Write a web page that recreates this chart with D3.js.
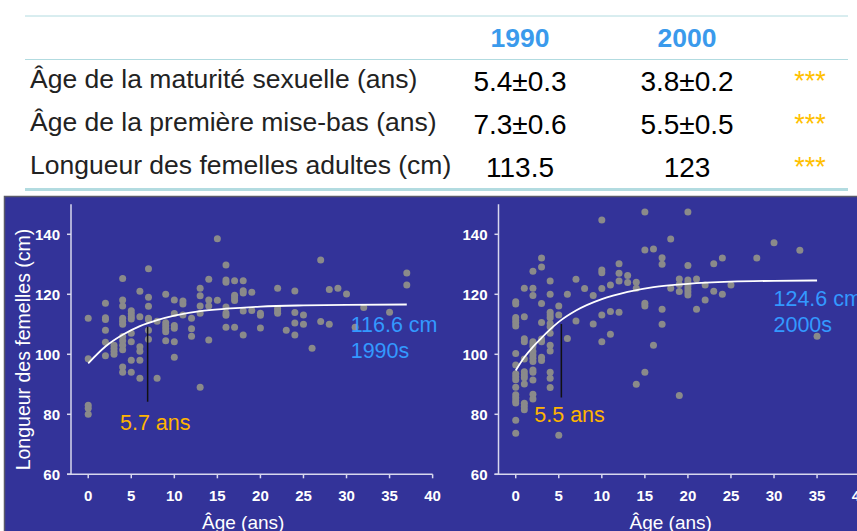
<!DOCTYPE html>
<html>
<head>
<meta charset="utf-8">
<script src="https://cdn.jsdelivr.net/npm/d3@7"></script>
<style>
  body { margin: 0; background: #fff; }
  svg { display: block; font-family: "Liberation Sans", Arial, sans-serif; }
</style>
</head>
<body>
<div id="chart"></div>
<script>
// table
const years = ['1990', '2000'];
const rowLabels = [
  'Âge de la maturité sexuelle (ans)',
  'Âge de la première mise-bas (ans)',
  'Longueur des femelles adultes (cm)'
];
const values1990 = ['5.4±0.3', '7.3±0.6', '113.5'];
const values2000 = ['3.8±0.2', '5.5±0.5', '123'];
const signif = ['***', '***', '***'];

// scatter: [age, length]
const points1990 = [
  [0, 112], [0, 98.5], [0, 83], [0, 82], [0, 80],
  [2, 117], [2, 112.2], [2, 111.6], [2, 108], [2, 104], [2, 99.5],
  [3, 103], [3, 102], [3, 101], [3, 100],
  [4, 125.3], [4, 118.1], [4, 116.1], [4, 112], [4, 111], [4, 110], [4, 105.9], [4, 104.5], [4, 103], [4, 101.5], [4, 95.8], [4, 94],
  [5, 114.5], [5, 113.5], [5, 112.5], [5, 111.8], [5, 107], [5, 104.2], [5, 98], [5, 94],
  [6, 121], [6, 112.5], [6, 102.5], [6, 101], [6, 98], [6, 92],
  [7, 128.5], [7, 119], [7, 116], [7, 112], [7, 111.5], [7, 108], [7, 105],
  [8, 111], [8, 92],
  [9, 120], [9, 110.5], [9, 109.5], [9, 108.5], [9, 107.5], [9, 104.5],
  [10, 118.1], [10, 113.6], [10, 109.6], [10, 108.7], [10, 104.2], [10, 99],
  [11, 117.8], [11, 116.8], [11, 113.1],
  [12, 112], [12, 108.5], [12, 106],
  [13, 122], [13, 119.5], [13, 116.1], [13, 113.7], [13, 89],
  [14, 125], [14, 118.1], [14, 116.1], [14, 104.8],
  [15, 138.5], [15, 118],
  [16, 129.8], [16, 124.8], [16, 124], [16, 115.8], [16, 113.8], [16, 113], [16, 109],
  [17, 124.5], [17, 119.7], [17, 118.8], [17, 117.9], [17, 109],
  [18, 124.5], [18, 121.2], [18, 120.4], [18, 114.4], [18, 106.4],
  [19, 120.7], [19, 114.6],
  [20, 113.7], [20, 113], [20, 108.8],
  [22, 122], [22, 115.3], [22, 114.4], [22, 113.7],
  [23, 108],
  [24, 121.1], [24, 113.9], [24, 110.4], [24, 106.4],
  [25, 113.1], [25, 110],
  [26, 102],
  [27, 131.4], [27, 110.9],
  [28, 121.6], [28, 110],
  [29, 122], [30, 120.1], [31, 109], [32, 115.6], [35, 114],
  [37, 127.1], [37, 123.1]
];
const points2000 = [
  [0, 117.5], [0, 116.8], [0, 112.3], [0, 111.4], [0, 110.5], [0, 109.4], [0, 100.3], [0, 96.4], [0, 93.5],
  [0, 92.5], [0, 91.5], [0, 89], [0, 86.5], [0, 85.5], [0, 84.5], [0, 83.8], [0, 78], [0, 73.7],
  [1, 122], [1, 112.5], [1, 105.2], [1, 104.2], [1, 98.4], [1, 94.2], [1, 93.1], [1, 92.2], [1, 90.1],
  [1, 83.7], [1, 82.6], [1, 81.5],
  [2, 127.7], [2, 122], [2, 119.6], [2, 104.2], [2, 103.4], [2, 102.6], [2, 100.9], [2, 99.8], [2, 98.7],
  [2, 97.6], [2, 94.8], [2, 94], [2, 91.4], [2, 86.7], [2, 85.1],
  [3, 132.1], [3, 129.1], [3, 116.9], [3, 110.6], [3, 105.1], [3, 104.2], [3, 99], [3, 97.9],
  [4, 124.4], [4, 120], [4, 114], [4, 113.1], [4, 112.2], [4, 110.3], [4, 109.2], [4, 107], [4, 103],
  [4, 101.1], [4, 94], [4, 92], [4, 88.9],
  [5, 116.1], [5, 113.1], [5, 73],
  [6, 120], [6, 105.3],
  [7, 125], [7, 111.1],
  [8, 121.9],
  [9, 119.6], [9, 110.1],
  [10, 144.8], [10, 128.1], [10, 127.2], [10, 121.9], [10, 113.1], [10, 104.2],
  [11, 123.1], [11, 114.3], [11, 106.7],
  [12, 130.2], [12, 127], [12, 124.4], [12, 114],
  [13, 126.3], [13, 123.9],
  [14, 124], [14, 122], [14, 90],
  [15, 147.4], [15, 134.8], [15, 117], [15, 116.1], [15, 94],
  [16, 135.1], [16, 103],
  [17, 132.2], [17, 130], [17, 115], [17, 110],
  [18, 138.4], [18, 122],
  [19, 125.1], [19, 123.3], [19, 120.9], [19, 86.3],
  [20, 147.4], [20, 129.6], [20, 124.8], [20, 123.8], [20, 122.8], [20, 121.8], [20, 120.8], [20, 119.8],
  [21, 125.1], [21, 115],
  [22, 123.1], [22, 118.1],
  [23, 130.2], [23, 121],
  [24, 132.1], [24, 120],
  [25, 123.1], [28, 132.1], [30, 137.2], [33, 134.7], [35, 106]
];

// fitted growth curves
const curve1990 = [[0, 97], [2, 102.6], [4, 106.5], [6, 109.4], [8, 111.4], [10, 112.9], [13, 114.4],
  [16, 115.2], [20, 115.9], [25, 116.3], [30, 116.5], [37, 116.6]];
const curve2000 = [[0, 94.6], [1, 99], [2, 102.5], [3, 105.5], [4, 108.3], [5, 110.8], [7, 114.6],
  [10, 118.4], [13, 120.8], [16, 122.4], [20, 123.5], [25, 124.2], [30, 124.5], [35, 124.6]];

const maturity1990 = { age: 6.9, low: 84.2, high: 109.2, label: '5.7 ans' };
const maturity2000 = { age: 5.3, low: 85.6, high: 110.1, label: '5.5 ans' };
const asymptote1990 = ['116.6 cm', '1990s'];
const asymptote2000 = ['124.6 cm', '2000s'];

const xTicks = [0, 5, 10, 15, 20, 25, 30, 35, 40];
const yTicks = [60, 80, 100, 120, 140];

const width = 857;
const height = 531;

const svg = d3.select('#chart')
  .append('svg')
  .attr('width', width)
  .attr('height', height);

// ---- table ----
const lineColor = '#b2dbe0';
[16, 59.5].forEach(function(y) {
  svg.append('line')
    .attr('x1', 25).attr('x2', 848)
    .attr('y1', y).attr('y2', y)
    .attr('stroke', lineColor).attr('stroke-width', 1);
});
svg.append('line')
  .attr('x1', 25).attr('x2', 848)
  .attr('y1', 189.5).attr('y2', 189.5)
  .attr('stroke', lineColor).attr('stroke-width', 3);

const colX = [520, 687];
svg.selectAll('text.year')
  .data(years)
  .enter()
  .append('text')
  .attr('class', 'year')
  .attr('x', (d, i) => colX[i])
  .attr('y', 46.5)
  .attr('text-anchor', 'middle')
  .attr('font-size', 26.5)
  .attr('font-weight', 'bold')
  .attr('fill', '#3a9aec')
  .text(d => d);

const labelY = [87.5, 130.5, 174];
const valueY = [90.5, 134, 176.5];

svg.selectAll('text.rowlabel')
  .data(rowLabels)
  .enter()
  .append('text')
  .attr('class', 'rowlabel')
  .attr('x', 30)
  .attr('y', (d, i) => labelY[i])
  .attr('font-size', 26.5)
  .attr('fill', '#222')
  .text(d => d);

[values1990, values2000].forEach(function(vals, c) {
  svg.selectAll('text.val' + c)
    .data(vals)
    .enter()
    .append('text')
    .attr('class', 'val' + c)
    .attr('x', colX[c])
    .attr('y', (d, i) => valueY[i])
    .attr('text-anchor', 'middle')
    .attr('font-size', 28)
    .attr('fill', '#000')
    .text(d => d);
});

svg.selectAll('text.star')
  .data(signif)
  .enter()
  .append('text')
  .attr('class', 'star')
  .attr('x', 810)
  .attr('y', (d, i) => valueY[i] - 1)
  .attr('text-anchor', 'middle')
  .attr('font-size', 27)
  .attr('fill', '#ffc000')
  .text(d => d);

// ---- panel ----
svg.append('rect')
  .attr('x', 4.5)
  .attr('y', 196.5)
  .attr('width', width)
  .attr('height', height)
  .attr('fill', '#333399')
  .attr('stroke', '#5a5a6a')
  .attr('stroke-width', 1.5);

const y = d3.scaleLinear().domain([60, 150]).range([474.3, 204.3]);

function drawPlot(x0, pts, curve, mat, asym, matLabelX, matLabelY, asymX, asymY) {
  const x = d3.scaleLinear().domain([-2, 40]).range([x0, x0 + 42 * 8.61]);
  const g = svg.append('g');
  const axisColor = '#d8d8ee';

  // y axis
  g.append('line')
    .attr('x1', x0).attr('x2', x0)
    .attr('y1', y(150)).attr('y2', y(60))
    .attr('stroke', axisColor).attr('stroke-width', 1.5);
  g.selectAll('line.yt')
    .data(yTicks)
    .enter()
    .append('line')
    .attr('x1', x0 - 4).attr('x2', x0)
    .attr('y1', d => y(d)).attr('y2', d => y(d))
    .attr('stroke', axisColor).attr('stroke-width', 1.5);
  g.selectAll('text.yt')
    .data(yTicks)
    .enter()
    .append('text')
    .attr('x', x0 - 11)
    .attr('y', d => y(d) + 5.5)
    .attr('text-anchor', 'end')
    .attr('font-size', 15)
    .attr('font-weight', 'bold')
    .attr('fill', '#fff')
    .text(d => d);

  // x axis
  g.append('line')
    .attr('x1', x0 - 4).attr('x2', x(40))
    .attr('y1', y(60)).attr('y2', y(60))
    .attr('stroke', axisColor).attr('stroke-width', 1.5);
  g.selectAll('line.xt')
    .data(xTicks)
    .enter()
    .append('line')
    .attr('x1', d => x(d)).attr('x2', d => x(d))
    .attr('y1', y(60)).attr('y2', y(60) + 4)
    .attr('stroke', axisColor).attr('stroke-width', 1.5);
  g.selectAll('text.xt')
    .data(xTicks)
    .enter()
    .append('text')
    .attr('x', d => x(d))
    .attr('y', 500.5)
    .attr('text-anchor', 'middle')
    .attr('font-size', 15)
    .attr('font-weight', 'bold')
    .attr('fill', '#fff')
    .text(d => d);

  g.append('text')
    .attr('x', x(18))
    .attr('y', 529)
    .attr('text-anchor', 'middle')
    .attr('font-size', 19)
    .attr('fill', '#fff')
    .text('Âge (ans)');

  // points
  g.selectAll('circle')
    .data(pts)
    .enter()
    .append('circle')
    .attr('cx', d => x(d[0]))
    .attr('cy', d => y(d[1]))
    .attr('r', 3.5)
    .attr('fill', '#8a8a8a');

  // growth curve
  const line = d3.line()
    .x(d => x(d[0]))
    .y(d => y(d[1]))
    .curve(d3.curveMonotoneX);
  g.append('path')
    .datum(curve)
    .attr('d', line)
    .attr('fill', 'none')
    .attr('stroke', '#fff')
    .attr('stroke-width', 1.8);

  // maturity marker
  g.append('line')
    .attr('x1', x(mat.age)).attr('x2', x(mat.age))
    .attr('y1', y(mat.high)).attr('y2', y(mat.low))
    .attr('stroke', '#111')
    .attr('stroke-width', 1.5);
  g.append('text')
    .attr('x', matLabelX)
    .attr('y', matLabelY)
    .attr('font-size', 21.5)
    .attr('fill', '#ffb400')
    .text(mat.label);

  g.selectAll('text.asym')
    .data(asym)
    .enter()
    .append('text')
    .attr('x', asymX)
    .attr('y', (d, i) => asymY + i * 26)
    .attr('font-size', 21.5)
    .attr('fill', '#3399ff')
    .text(d => d);
}

drawPlot(71, points1990, curve1990, maturity1990, asymptote1990, 120, 430, 350.7, 331.7);
drawPlot(498.5, points2000, curve2000, maturity2000, asymptote2000, 534.3, 421.7, 773.5, 306);

// y axis title (left panel only)
svg.append('text')
  .attr('transform', 'translate(29.5,349.5) rotate(-90)')
  .attr('text-anchor', 'middle')
  .attr('font-size', 19.5)
  .attr('fill', '#fff')
  .text('Longueur des femelles (cm)');
</script>
</body>
</html>
